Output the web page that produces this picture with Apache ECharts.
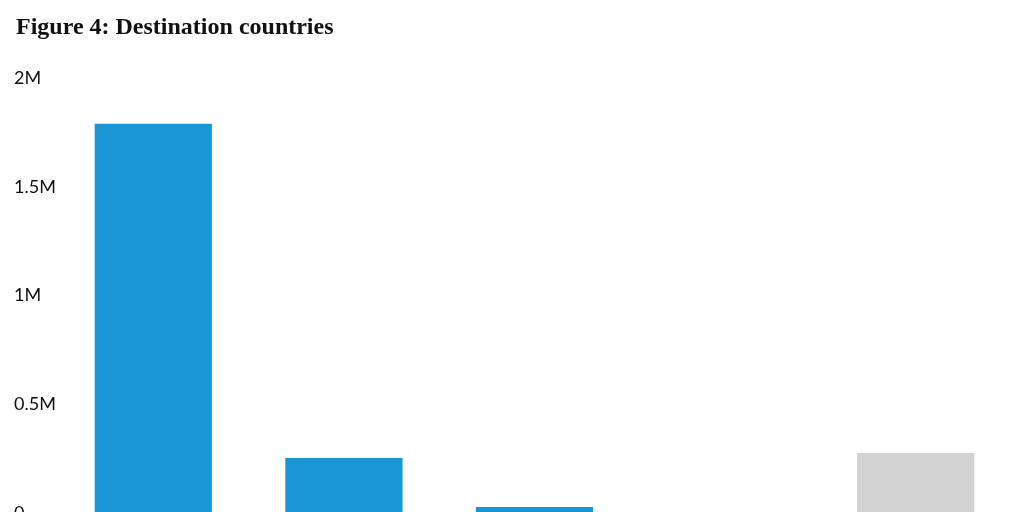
<!DOCTYPE html>
<html>
<head>
<meta charset="utf-8">
<script src="https://cdn.jsdelivr.net/npm/echarts@6/dist/echarts.min.js"></script>
<style>
  html, body { margin: 0; padding: 0; background: #fff; }
  #chart { width: 1024px; height: 512px; }
</style>
</head>
<body>
<div id="chart"></div>
<script>
// 数据
const countries = ['Country A', 'Country B', 'Country C', 'Country D', 'Other'];
const travellers = [1790000, 253000, 28000, 0, 276000];
const barColors = ['#1897d4', '#1897d4', '#1897d4', '#1897d4', '#d3d3d3'];
const yTicks = [0, 500000, 1000000, 1500000, 2000000];

const chart = echarts.init(document.getElementById('chart'));

function fmtM(v) {
  if (v === 0) return '0';
  return (v / 1000000) + 'M';
}

chart.setOption({
  animation: false,
  title: {
    text: 'Figure 4: Destination countries',
    left: 11,
    top: 11,
    textStyle: { fontFamily: 'Liberation Serif', fontWeight: 'bold', fontSize: 24, color: '#111' }
  },
  // 网格延伸到画面下方，x 轴在可见范围之外
  grid: { left: 58, right: 13, top: 78, height: 435, outerBoundsMode: 'none', containLabel: false },
  xAxis: {
    type: 'category',
    data: countries,
    axisLine: { show: false },
    axisTick: { show: false },
    axisLabel: { show: true, color: '#222' }
  },
  yAxis: {
    type: 'value',
    min: yTicks[0],
    max: yTicks[yTicks.length - 1],
    interval: yTicks[1] - yTicks[0],
    splitLine: { show: false },
    axisLine: { show: false },
    axisTick: { show: false },
    axisLabel: {
      formatter: fmtM,
      align: 'left',
      margin: 44,
      fontFamily: 'Lato',
      fontSize: 18,
      color: '#111'
    }
  },
  series: [{
    type: 'bar',
    barWidth: '61.5%',
    data: travellers.map((v, i) => ({ value: v, itemStyle: { color: barColors[i] } }))
  }]
});
</script>
</body>
</html>
